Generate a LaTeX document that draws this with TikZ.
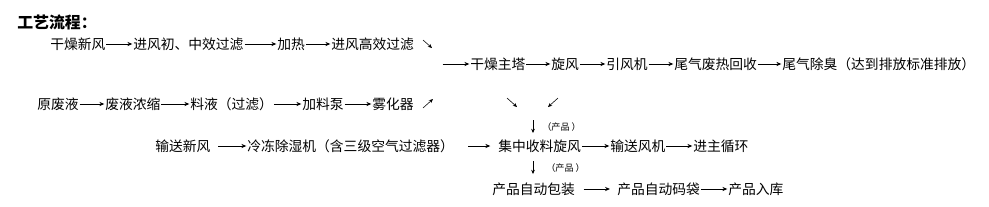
\documentclass[tikz,border=0pt]{standalone}
\usepackage{fontspec}
\setmainfont{Noto Sans CJK SC}
\usetikzlibrary{arrows.meta}

\begin{document}
\begin{tikzpicture}[
  x=0.025cm, y=-0.025cm,
  stage/.style={
    anchor=west, inner sep=0pt,
    font=\fontsize{9.8}{11}\selectfont
  },
  note/.style={anchor=west, inner sep=0pt, font=\fontsize{6.5}{7}\selectfont},
  flow/.style={-{Stealth[length=3.5pt,width=3pt]}, semithick, shorten <=0.5pt, shorten >=0.5pt},
  hint/.style={-{Stealth[length=3pt,width=2.6pt]}, thin}
]
\useasboundingbox (0,0) rectangle (989,206);

\node[anchor=west, inner sep=0pt, font=\fontsize{11.3}{13}\selectfont\bfseries] (title) at (17,22) {工艺流程：};

\node[stage] (r1a) at (50,44)  {干燥新风};
\node[stage] (r1b) at (133,44) {进风初、中效过滤};
\node[stage] (r1c) at (277,44) {加热};
\node[stage] (r1d) at (331,44) {进风高效过滤};

\draw[flow] (r1a) -- (r1b);
\draw[flow] (r1b) -- (r1c);
\draw[flow] (r1c) -- (r1d);

\coordinate (r2in) at (442,64);
\node[stage] (r2a) at (470,64) {干燥主塔};
\node[stage] (r2b) at (551,64) {旋风};
\node[stage] (r2c) at (606,64) {引风机};
\node[stage] (r2d) at (674,64) {尾气废热回收};
\node[stage] (r2e) at (782,64) {尾气除臭（达到排放标准排放）};

\draw[flow] (r2in) -- (r2a);
\draw[flow] (r2a) -- (r2b);
\draw[flow] (r2b) -- (r2c);
\draw[flow] (r2c) -- (r2d);
\draw[flow] (r2d) -- (r2e);

\node[stage] (r3a) at (37,104)  {原废液};
\node[stage] (r3b) at (105,104) {废液浓缩};
\node[stage] (r3c) at (190,104) {料液（过滤）};
\node[stage] (r3d) at (302,104) {加料泵};
\node[stage] (r3e) at (372,104) {雾化器};

\draw[flow] (r3a) -- (r3b);
\draw[flow] (r3b) -- (r3c);
\draw[flow] (r3c) -- (r3d);
\draw[flow] (r3d) -- (r3e);

\node[stage] (r4a) at (155,146) {输送新风};
\node[stage] (r4b) at (247,146) {冷冻除湿机（含三级空气过滤器）};
\node[stage] (r4c) at (498,146) {集中收料旋风};
\node[stage] (r4d) at (610,146) {输送风机};
\node[stage] (r4e) at (693,146) {进主循环};

\draw[flow, shorten <=5.5pt] (r4a) -- (r4b);
\draw[flow, shorten <=10pt, shorten >=5.5pt] (r4b) -- (r4c);
\draw[flow] (r4c) -- (r4d);
\draw[flow] (r4d) -- (r4e);

\node[stage] (r5a) at (492,189) {产品自动包装};
\node[stage] (r5b) at (617,189) {产品自动码袋};
\node[stage] (r5c) at (728,189) {产品入库};

\draw[flow, shorten <=6pt, shorten >=5pt] (r5a) -- (r5b);
\draw[flow] (r5b) -- (r5c);

\coordinate (d1s) at (423,40);  \coordinate (d1e) at (432,48);
\coordinate (d2s) at (423,108); \coordinate (d2e) at (433,99);
\coordinate (d3s) at (507,98);  \coordinate (d3e) at (517,107);
\coordinate (d4s) at (558,98);  \coordinate (d4e) at (548,107);
\coordinate (d5s) at (533,120); \coordinate (d5e) at (533,133);
\coordinate (d6s) at (533,161); \coordinate (d6e) at (533,174);

\draw[hint] (d1s) -- (d1e);
\draw[hint] (d2s) -- (d2e);
\draw[hint] (d3s) -- (d3e);
\draw[hint] (d4s) -- (d4e);
\draw[hint] (d5s) -- (d5e);
\draw[hint] (d6s) -- (d6e);

\node[note] (p1) at (542,127) {（产品 ）};
\node[note] (p2) at (546,168) {（产品 ）};
\end{tikzpicture}
\end{document}
